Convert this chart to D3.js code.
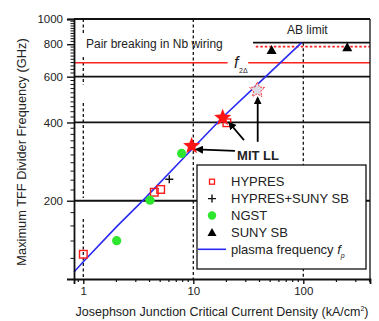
<!DOCTYPE html>
<html>
<head>
<meta charset="utf-8">
<script src="https://cdn.jsdelivr.net/npm/d3@7"></script>
<style>
  body { margin: 0; background: #fff; }
  text { font-family: "Liberation Sans", Arial, sans-serif; fill: #222; }
</style>
</head>
<body>
<svg id="chart"></svg>
<script>
// Values (Jc in kA/cm2, frequency in GHz)
const hypresJc = [1.0, 4.42, 5.05, 20.2];
const hypresF = [124.5, 215.6, 221, 399];
const hsJc = [6.05];
const hsF = [242];
const ngstJc = [2.01, 4.04, 7.83];
const ngstF = [140.4, 201, 304];
const sunyJc = [51.5, 251];
const sunyF = [760, 779];
const mitJc = [9.66, 18.5];
const mitF = [325, 417];
const mitPaleJc = [38.1];
const mitPaleF = [533];
const plasmaJc = [0.823, 1, 2.01, 3.51, 7.83, 18.6, 37.7, 96.5];
const plasmaF = [106.4, 116.5, 159, 201, 287, 420, 557, 811];

const yTicks = [200, 400, 600, 800, 1000];
const xTicks = [1, 10, 100];
const gridF = [1000, 600, 400, 200];
const f2Delta = 679;
const abLimit = 811;
const sunyLimit = 783;
const legendNames = ["HYPRES", "HYPRES+SUNY SB", "NGST", "SUNY SB", "plasma frequency "];

// Set up dimensions
const width = 379;
const height = 321;

const svg = d3.select("#chart").attr("width", width).attr("height", height);

// Scales
const xScale = d3.scaleLog().domain([0.823, 404]).range([74, 370]);
const yScale = d3.scaleLog().domain([100, 1000]).range([279, 19]);
const [x0, x1] = xScale.range();
const [y0, y1] = yScale.range();

// horizontal reference lines
svg.selectAll(".grid").data(gridF).enter().append("line")
  .attr("x1", x0).attr("x2", x1)
  .attr("y1", d => yScale(d)).attr("y2", d => yScale(d))
  .attr("stroke", "#111").attr("stroke-width", 1.8);

// vertical dashed lines at decades (the one at 1 is broken into pieces)
const dash1 = [[1000, 884], [715, 557], [475, 205], [170, 100]];
svg.selectAll(".v1").data(dash1).enter().append("line")
  .attr("x1", xScale(1)).attr("x2", xScale(1))
  .attr("y1", d => yScale(d[0])).attr("y2", d => yScale(d[1]))
  .attr("stroke", "#111").attr("stroke-width", 1.3).attr("stroke-dasharray", "3,2.5");
svg.append("line")
  .attr("x1", xScale(10)).attr("x2", xScale(10))
  .attr("y1", y1).attr("y2", y0)
  .attr("stroke", "#111").attr("stroke-width", 1.3).attr("stroke-dasharray", "3,2.5");
svg.append("line")
  .attr("x1", xScale(100)).attr("x2", xScale(100))
  .attr("y1", yScale(abLimit)).attr("y2", y0)
  .attr("stroke", "#111").attr("stroke-width", 1.3).attr("stroke-dasharray", "3,2.5");

// f_2delta red line, with gap for the label
svg.append("line")
  .attr("x1", x0).attr("x2", xScale(20.5))
  .attr("y1", yScale(f2Delta)).attr("y2", yScale(f2Delta))
  .attr("stroke", "#ff2020").attr("stroke-width", 1.6);
svg.append("line")
  .attr("x1", xScale(31.6)).attr("x2", x1)
  .attr("y1", yScale(f2Delta)).attr("y2", yScale(f2Delta))
  .attr("stroke", "#ff2020").attr("stroke-width", 1.6);
svg.append("text")
  .attr("x", xScale(23.5)).attr("y", yScale(f2Delta) + 5)
  .attr("font-size", 16).attr("font-style", "italic").text("f");
svg.append("text")
  .attr("x", xScale(23.5) + 5).attr("y", yScale(f2Delta) + 10)
  .attr("font-size", 7).text("2Δ");

// AB limit line and SUNY dotted line
svg.append("line")
  .attr("x1", xScale(34.9)).attr("x2", x1)
  .attr("y1", yScale(abLimit)).attr("y2", yScale(abLimit))
  .attr("stroke", "#111").attr("stroke-width", 1.8);
svg.append("line")
  .attr("x1", xScale(37)).attr("x2", x1)
  .attr("y1", yScale(sunyLimit)).attr("y2", yScale(sunyLimit))
  .attr("stroke", "#ff2020").attr("stroke-width", 1.8).attr("stroke-dasharray", "2.5,2");
svg.append("text")
  .attr("x", 287).attr("y", 34)
  .attr("font-size", 12).text("AB limit");

svg.append("text")
  .attr("x", 86).attr("y", 48)
  .attr("font-size", 12).text("Pair breaking in Nb wiring");

// plasma frequency line
const line = d3.line().x((d, i) => xScale(plasmaJc[i])).y(d => yScale(d));
svg.append("path")
  .attr("d", line(plasmaF))
  .attr("fill", "none").attr("stroke", "#2a2af5").attr("stroke-width", 1.6);

// star shape
function starPath(r, ri) {
  const pts = [];
  for (let k = 0; k < 10; k++) {
    const a = -Math.PI / 2 + k * Math.PI / 5;
    const rr = k % 2 === 0 ? r : ri;
    pts.push([rr * Math.cos(a), rr * Math.sin(a)]);
  }
  return "M" + pts.map(p => p.join(",")).join("L") + "Z";
}

// markers
const hyp = hypresJc.map((d, i) => ({ x: d, y: hypresF[i] }));
svg.selectAll(".hyp").data(hyp).enter().append("rect")
  .attr("x", d => xScale(d.x) - 3.8).attr("y", d => yScale(d.y) - 3.8)
  .attr("width", 7.6).attr("height", 7.6)
  .attr("fill", "none").attr("stroke", "#ff1a1a").attr("stroke-width", 1.4);

const ngst = ngstJc.map((d, i) => ({ x: d, y: ngstF[i] }));
svg.selectAll(".ngst").data(ngst).enter().append("circle")
  .attr("cx", d => xScale(d.x)).attr("cy", d => yScale(d.y))
  .attr("r", 4.6).attr("fill", "#2ee62e");

const hs = hsJc.map((d, i) => ({ x: d, y: hsF[i] }));
svg.selectAll(".hs").data(hs).enter().append("path")
  .attr("transform", d => `translate(${xScale(d.x)},${yScale(d.y)})`)
  .attr("d", "M-4,0H4M0,-4V4")
  .attr("stroke", "#111").attr("stroke-width", 1.4);

const suny = sunyJc.map((d, i) => ({ x: d, y: sunyF[i] }));
svg.selectAll(".suny").data(suny).enter().append("path")
  .attr("transform", d => `translate(${xScale(d.x)},${yScale(d.y)})`)
  .attr("d", "M0,-5L5,4L-5,4Z")
  .attr("fill", "#000");

const mit = mitJc.map((d, i) => ({ x: d, y: mitF[i] }));
svg.selectAll(".mit").data(mit).enter().append("path")
  .attr("transform", d => `translate(${xScale(d.x)},${yScale(d.y)})`)
  .attr("d", starPath(9, 3.9))
  .attr("fill", "#ff1414");

const mitPale = mitPaleJc.map((d, i) => ({ x: d, y: mitPaleF[i] }));
svg.selectAll(".mitp").data(mitPale).enter().append("path")
  .attr("transform", d => `translate(${xScale(d.x)},${yScale(d.y)})`)
  .attr("d", starPath(8, 3.8))
  .attr("fill", "#dcdce6").attr("stroke", "#ff4040").attr("stroke-width", 1)
  .attr("stroke-dasharray", "2,1");

// MIT LL arrows
svg.append("defs").append("marker")
  .attr("id", "ah").attr("viewBox", "0 0 10 10")
  .attr("refX", 8).attr("refY", 5)
  .attr("markerWidth", 4.5).attr("markerHeight", 4.5)
  .attr("orient", "auto")
  .append("path").attr("d", "M0,0L10,5L0,10Z").attr("fill", "#000");
const arrows = [
  [[23.9, 311], [10.7, 315]],
  [[28.9, 342], [21.2, 399]],
  [[38.5, 337], [38.5, 497]]
];
svg.selectAll(".arrow").data(arrows).enter().append("line")
  .attr("x1", d => xScale(d[0][0])).attr("y1", d => yScale(d[0][1]))
  .attr("x2", d => xScale(d[1][0])).attr("y2", d => yScale(d[1][1]))
  .attr("stroke", "#000").attr("stroke-width", 1.8)
  .attr("marker-end", "url(#ah)");
svg.append("text")
  .attr("x", xScale(25)).attr("y", yScale(287))
  .attr("font-size", 13).attr("font-weight", "bold").text("MIT LL");

// frame
svg.append("line").attr("x1", x1).attr("x2", x1).attr("y1", y1).attr("y2", y0)
  .attr("stroke", "#111").attr("stroke-width", 1.3);

// axes
const xAxisGroup = svg.append("g").attr("transform", `translate(0, ${y0})`);
xAxisGroup.call(d3.axisBottom(xScale).tickValues(xTicks).tickSize(5).tickFormat(d3.format("d")));
const xMinor = [0.9, 2, 3, 4, 5, 6, 7, 8, 9, 20, 30, 40, 50, 60, 70, 80, 90, 200, 300, 400];
xAxisGroup.selectAll(".minor").data(xMinor).enter().append("line")
  .attr("x1", d => xScale(d)).attr("x2", d => xScale(d))
  .attr("y1", 0).attr("y2", 3).attr("stroke", "#111").attr("stroke-width", 1.2);

const yAxisGroup = svg.append("g").attr("transform", `translate(${x0}, 0)`);
yAxisGroup.call(d3.axisLeft(yScale).tickValues(yTicks).tickSize(7).tickPadding(4).tickFormat(d3.format("d")));
const yMinor = d3.range(120, 1000, 20).filter(v => !yTicks.includes(v));
yAxisGroup.selectAll(".minor").data(yMinor).enter().append("line")
  .attr("x1", -3.5).attr("x2", 0)
  .attr("y1", d => yScale(d)).attr("y2", d => yScale(d))
  .attr("stroke", "#111").attr("stroke-width", 1);

svg.selectAll(".domain").attr("stroke", "#111").attr("stroke-width", 1.8);
svg.selectAll(".tick line").attr("stroke", "#111").attr("stroke-width", 1.4);
svg.selectAll(".tick text").attr("font-size", 11.5)
  .attr("font-family", "'Liberation Sans', Arial, sans-serif").attr("fill", "#222");

// axis titles
svg.append("text")
  .attr("x", 222).attr("y", 316).attr("text-anchor", "middle")
  .attr("font-size", 12.5)
  .html('Josephson Junction Critical Current Density (kA/cm<tspan dy="-5" font-size="7">2</tspan><tspan dy="5">)</tspan>');
svg.append("text")
  .attr("transform", "translate(26,152) rotate(-90)")
  .attr("text-anchor", "middle").attr("font-size", 12.8)
  .text("Maximum TFF Divider Frequency (GHz)");

// legend
const lg = svg.append("g");
lg.append("rect").attr("x", 197).attr("y", 165).attr("width", 169).attr("height", 104)
  .attr("fill", "#fff").attr("stroke", "#111").attr("stroke-width", 1.3);
const rows = legendNames.map((d, i) => 181.7 + i * 16.9);
lg.selectAll(".lt").data(legendNames).enter().append("text")
  .attr("x", 231).attr("y", (d, i) => rows[i] + 4.5)
  .attr("font-size", 13).text(d => d);
lg.append("rect").attr("x", 209.5).attr("y", rows[0] - 2.5).attr("width", 5).attr("height", 5)
  .attr("fill", "none").attr("stroke", "#ff1a1a").attr("stroke-width", 1.3);
lg.append("path").attr("transform", `translate(212,${rows[1]})`)
  .attr("d", "M-4,0H4M0,-4V4").attr("stroke", "#111").attr("stroke-width", 1.4);
lg.append("circle").attr("cx", 212).attr("cy", rows[2]).attr("r", 4.2).attr("fill", "#2ee62e");
lg.append("path").attr("transform", `translate(212,${rows[3]})`)
  .attr("d", "M0,-4.5L4.5,3.5L-4.5,3.5Z").attr("fill", "#000");
lg.append("line").attr("x1", 198).attr("x2", 226).attr("y1", rows[4]).attr("y2", rows[4])
  .attr("stroke", "#2a2af5").attr("stroke-width", 1.6);
const plText = lg.selectAll("text").filter((d, i) => i === 4);
plText.append("tspan").attr("font-style", "italic").text("f");
plText.append("tspan").attr("dy", 4).attr("font-size", 7).attr("font-style", "italic").text("p");
</script>
</body>
</html>
